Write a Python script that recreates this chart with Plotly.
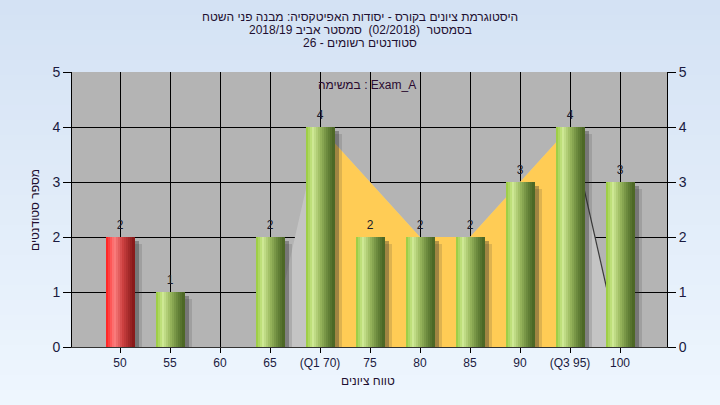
import plotly.graph_objects as go

# ---- data ----
categories = [50, 55, 60, 65, 70, 75, 80, 85, 90, 95, 100]
tick_labels = ["50", "55", "60", "65", "(Q1 70)", "75", "80", "85", "90", "(Q3 95)", "100"]
counts = [2, 1, 0, 2, 4, 2, 2, 2, 3, 4, 3]
fail_flags = [True, False, False, False, False, False, False, False, False, False, False]

iqr_x = [70, 80, 85, 95]
iqr_y = [4, 2, 2, 4]
outer_x = [65, 70, 80, 85, 95, 100]
outer_y = [0, 4, 2, 2, 4, 0]
edge_x = [95, 100]
edge_y = [4, 0]

title_lines = [
    "היסטוגרמת ציונים בקורס - יסודות האפיטקסיה: מבנה פני השטח",
    "בסמסטר  (02/2018)  סמסטר אביב 2018/19",
    "סטודנטים רשומים - 26",
]
task_label = "במשימה : Exam_A"
x_title = "טווח ציונים"
y_title = "מספר סטודנטים"

# ---- styling helpers ----
FONT = "Liberation Sans, DejaVu Sans, Arial, sans-serif"
BAR_W = 2.9
N_SLICES = 14

green_stops = [(0.0, (150, 202, 58)), (0.25, (206, 232, 148)), (0.5, (155, 185, 95)),
               (0.78, (102, 132, 58)), (1.0, (72, 98, 34))]
red_stops = [(0.0, (255, 28, 28)), (0.3, (252, 128, 128)), (0.6, (205, 65, 65)),
             (1.0, (130, 22, 22))]


def interp(stops, t):
    for (t0, c0), (t1, c1) in zip(stops[:-1], stops[1:]):
        if t0 <= t <= t1:
            f = (t - t0) / (t1 - t0) if t1 > t0 else 0
            c = [round(a + (b - a) * f) for a, b in zip(c0, c1)]
            return "rgb(%d,%d,%d)" % tuple(c)
    return "rgb(%d,%d,%d)" % stops[-1][1]


fig = go.Figure()

# background fills behind bars (primary y axis -> bottom layer)
fig.add_trace(go.Scatter(x=outer_x, y=outer_y, fill="toself", mode="lines",
                         line=dict(width=0), fillcolor="#c4c4c4",
                         hoverinfo="skip", showlegend=False))
fig.add_trace(go.Scatter(x=iqr_x, y=iqr_y, fill="tozeroy", mode="lines",
                         line=dict(width=0, color="#ffcc55"), fillcolor="#ffcc55",
                         hoverinfo="skip", showlegend=False))
fig.add_trace(go.Scatter(x=edge_x, y=edge_y, mode="lines",
                         line=dict(width=1.2, color="#3a3a3a"),
                         hoverinfo="skip", showlegend=False))

# shadows (on y2 so they sit above the fills)
fig.add_trace(go.Bar(x=categories, y=[max(c - 0.12, 0) for c in counts], yaxis="y2",
                     width=BAR_W - 0.2, offset=-BAR_W / 2 + 0.9,
                     marker=dict(color="rgba(50,50,50,0.16)", line=dict(width=0)),
                     hoverinfo="skip", showlegend=False))
fig.add_trace(go.Bar(x=categories, y=[max(c - 0.08, 0) for c in counts], yaxis="y2",
                     width=BAR_W, offset=-BAR_W / 2 + 0.45,
                     marker=dict(color="rgba(40,40,40,0.34)", line=dict(width=0)),
                     hoverinfo="skip", showlegend=False))

# gradient bars built from slices
dw = BAR_W / N_SLICES
for i in range(N_SLICES):
    t = (i + 0.5) / N_SLICES
    colors = [interp(red_stops if f else green_stops, t) for f in fail_flags]
    fig.add_trace(go.Bar(x=categories, y=counts, yaxis="y2", width=dw * 1.08,
                         offset=-BAR_W / 2 + i * dw,
                         marker=dict(color=colors, line=dict(width=0)),
                         hoverinfo="skip", showlegend=False))

# value labels (top layer)
fig.add_trace(go.Scatter(x=[c for c, v in zip(categories, counts) if v > 0],
                         y=[v for v in counts if v > 0],
                         text=[str(v) for v in counts if v > 0], yaxis="y3",
                         mode="text", textposition="top center",
                         textfont=dict(family=FONT, size=12, color="#1a1a2a"),
                         hoverinfo="skip", showlegend=False, cliponaxis=False))

# background gradient stripes (page) and plot area rect
shapes = []
W, H = 720, 405
L, R, T, B = 72, 53, 72, 58
pw, ph = W - L - R, H - T - B
n = 27
top_c = (212, 226, 244)
bot_c = (238, 246, 254)
for k in range(n):
    y0px = k * H / n
    y1px = (k + 1) * H / n + 1
    f = k / (n - 1)
    c = tuple(round(a + (b - a) * f) for a, b in zip(top_c, bot_c))
    shapes.append(dict(type="rect", xref="paper", yref="paper", layer="below",
                       x0=-L / pw - 0.01, x1=1 + R / pw + 0.01,
                       y0=1 + (T - y1px) / ph, y1=1 + (T - y0px) / ph,
                       line=dict(width=0), fillcolor="rgb(%d,%d,%d)" % c))
shapes.append(dict(type="rect", xref="paper", yref="paper", layer="below",
                   x0=0, x1=1, y0=0, y1=1, line=dict(width=0), fillcolor="#b4b4b4"))

annotations = []
for j, line in enumerate(title_lines):
    annotations.append(dict(text=line, xref="paper", yref="paper",
                            x=(360 - L) / pw, y=1 + (T - (17 + 13 * j)) / ph,
                            xanchor="center", yanchor="middle", showarrow=False,
                            font=dict(family=FONT, size=12, color="#1e0f30")))
annotations.append(dict(text=task_label, xref="paper", yref="paper",
                        x=(367 - L) / pw, y=1 + (T - 85) / ph,
                        xanchor="center", yanchor="middle", showarrow=False,
                        font=dict(family=FONT, size=12, color="#2a0a30")))
annotations.append(dict(text=x_title, xref="paper", yref="paper",
                        x=(368 - L) / pw, y=-(381 - (H - B)) / ph,
                        xanchor="center", yanchor="middle", showarrow=False,
                        font=dict(family=FONT, size=12, color="#1e0f30")))
annotations.append(dict(text=y_title, xref="paper", yref="paper",
                        x=(35 - L) / pw, y=(H - B - 210) / ph, textangle=-90,
                        xanchor="center", yanchor="middle", showarrow=False,
                        font=dict(family=FONT, size=12, color="#1e0f30")))

axis_font = dict(family=FONT, size=14, color="#1a1a40")
yticks = [0, 1, 2, 3, 4, 5]
fig.update_layout(
    width=W, height=H,
    margin=dict(l=L, r=R, t=T, b=B, autoexpand=False),
    paper_bgcolor="#e4eef9",
    plot_bgcolor="rgba(0,0,0,0)",
    barmode="overlay",
    bargap=0,
    shapes=shapes,
    annotations=annotations,
    xaxis=dict(range=[45.2, 104.7], tickmode="array", tickvals=categories,
               ticktext=tick_labels, showgrid=True, gridcolor="#000000", gridwidth=1,
               ticks="outside", ticklen=5, tickcolor="#000000",
               tickfont=dict(family=FONT, size=12, color="#1a1a40"),
               showline=True, linecolor="#333333", linewidth=1, zeroline=False,
               fixedrange=True, automargin=False),
    yaxis=dict(range=[0, 5], tickmode="array", tickvals=yticks,
               showgrid=True, gridcolor="#000000", gridwidth=1,
               ticks="outside", ticklen=8, tickcolor="#000000", tickfont=axis_font,
               showline=True, linecolor="#000000", linewidth=1, zeroline=False,
               fixedrange=True, automargin=False),
    yaxis2=dict(range=[0, 5], overlaying="y", side="right", anchor="x",
                tickmode="array", tickvals=yticks, showgrid=False,
                ticks="outside", ticklen=8, tickcolor="#000000", tickfont=axis_font,
                showline=True, linecolor="#000000", linewidth=1, zeroline=False,
                fixedrange=True, automargin=False),
    # label layer: slightly offset range lifts the value labels above the bar tops
    yaxis3=dict(range=[-0.09, 4.91], overlaying="y", anchor="x", visible=False,
                fixedrange=True),
)

fig.write_html("out.html", config={"displayModeBar": False},
               post_script="document.body.style.margin='0px';document.body.style.padding='0px';")
